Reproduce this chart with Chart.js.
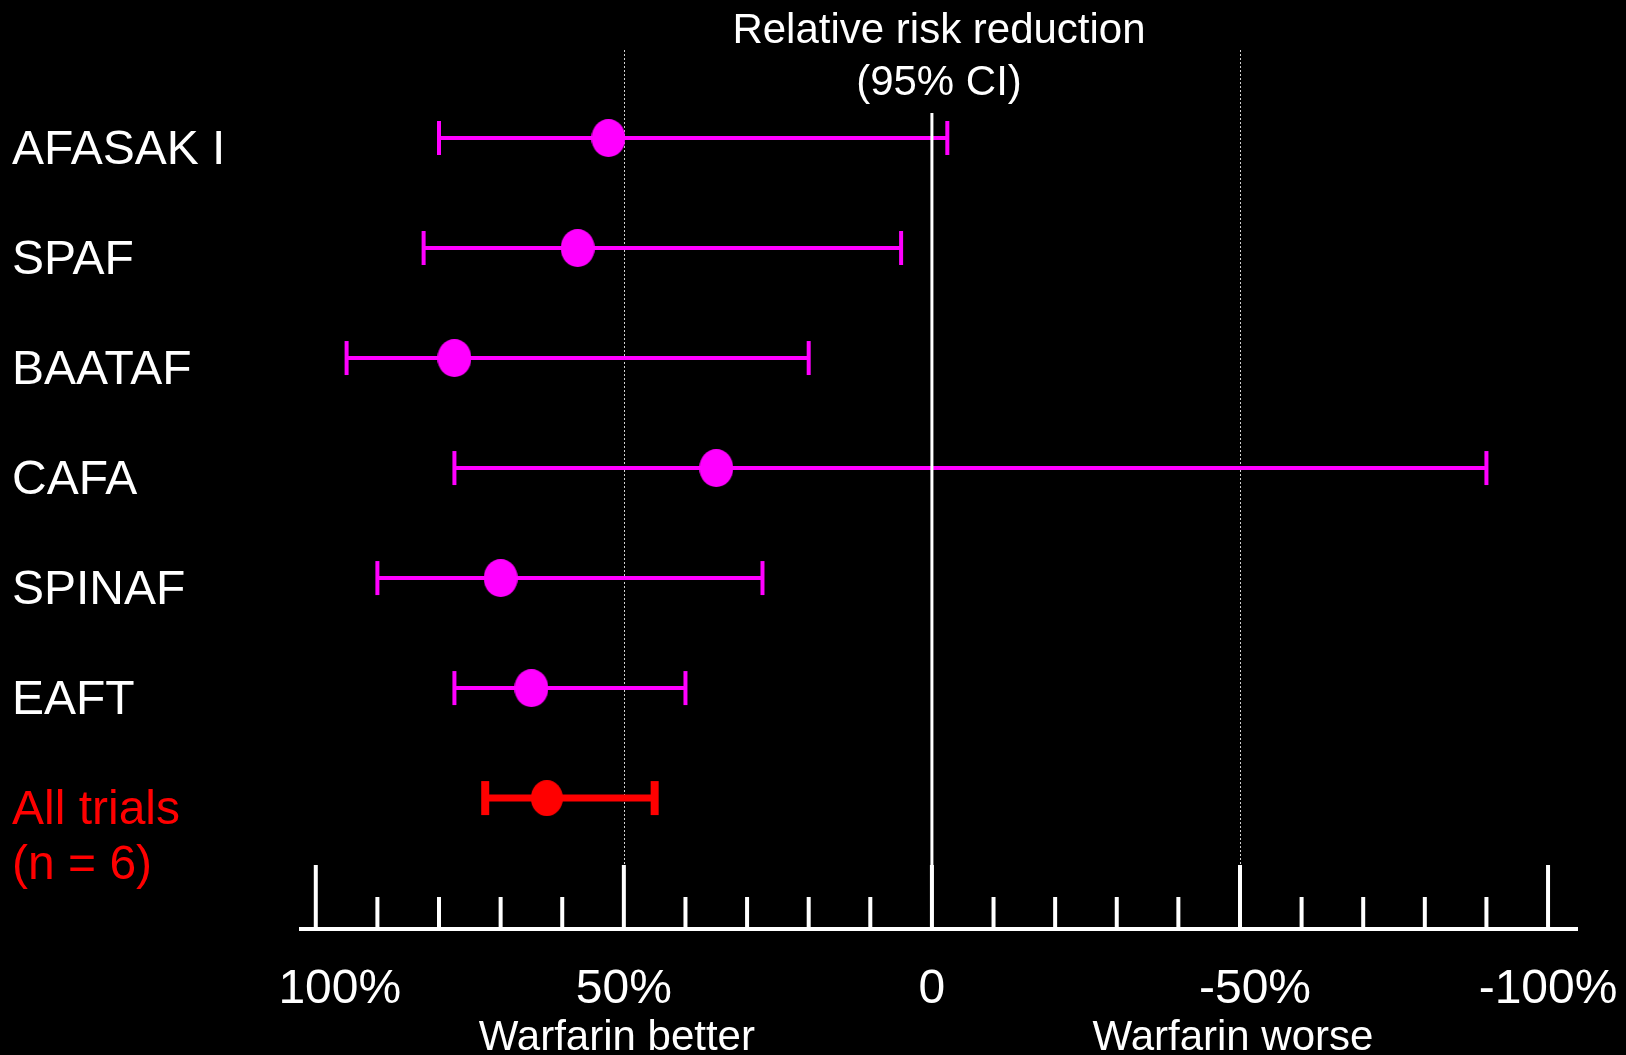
<!DOCTYPE html>
<html>
<head>
<meta charset="utf-8">
<title>Warfarin vs placebo – relative risk reduction</title>
<script src="https://cdn.jsdelivr.net/npm/chart.js@4.4.1/dist/chart.umd.min.js"></script>
<style>
  html, body { margin: 0; padding: 0; background: #000; }
  canvas { display: block; }
</style>
</head>
<body>
<canvas id="forest" width="1626" height="1055"></canvas>
<script>
// Trials and their relative risk reduction (%) with 95% confidence limits
const trials = ['AFASAK I', 'SPAF', 'BAATAF', 'CAFA', 'SPINAF', 'EAFT', ['All trials', '(n = 6)']];
const rrr = [52.5, 57.5, 77.5, 35, 70, 65, 62.5];
const ciHigh = [80, 82.5, 95, 77.5, 90, 77.5, 72.5];
const ciLow = [-2.5, 5, 20, -90, 27.5, 40, 45];

// Axis tick labels (every 10% gets a tick mark, labelled ones below)
const labelledTicks = [100, 50, 0, -50, -100];
const labelledText = ['100%', '50%', '0', '-50%', '-100%'];
const sideNotes = ['Warfarin better', 'Warfarin worse'];
const sideNoteAt = [50, -50];
const titleLines = ['Relative risk reduction', '(95% CI)'];

// small horizontal nudges (px) for the value labels under the axis
const labelNudge = [24, 0, 0, 15, 0];

const MAGENTA = '#ff00ff';
const RED = '#ff0000';
const FONT = '"Liberation Sans", Arial, Helvetica, sans-serif';
const pooledIndex = trials.length - 1;

Chart.defaults.font.family = FONT;
Chart.defaults.color = '#ffffff';

function ellipseMarker(w, h, color) {
  const c = document.createElement('canvas');
  c.width = w; c.height = h;
  const g = c.getContext('2d');
  g.fillStyle = color;
  g.beginPath();
  g.ellipse(w / 2, h / 2, w / 2, h / 2, 0, 0, Math.PI * 2);
  g.fill();
  return c;
}
const trialMarker = ellipseMarker(34, 38, MAGENTA);
const pooledMarker = ellipseMarker(32, 36, RED);

function seg(ctx, x1, y1, x2, y2) {
  ctx.beginPath();
  ctx.moveTo(x1, y1);
  ctx.lineTo(x2, y2);
  ctx.stroke();
}

const forestDecor = {
  id: 'forestDecor',
  beforeDatasetsDraw(chart) {
    const { ctx, chartArea: a, scales: { x, y } } = chart;
    ctx.save();

    // dotted guides at +/-50%
    ctx.strokeStyle = '#d0d0d0';
    ctx.lineWidth = 1;
    ctx.setLineDash([2, 2]);
    for (const v of [50, -50]) {
      const px = Math.round(x.getPixelForValue(v)) + 0.5;
      seg(ctx, px, a.top, px, a.bottom);
    }
    ctx.setLineDash([]);

    // confidence interval whiskers
    trials.forEach((_, i) => {
      const py = y.getPixelForValue(i);
      const xa = x.getPixelForValue(ciHigh[i]);
      const xb = x.getPixelForValue(ciLow[i]);
      const pooled = i === pooledIndex;
      ctx.strokeStyle = pooled ? RED : MAGENTA;
      ctx.lineWidth = pooled ? 7 : 4;
      seg(ctx, xa, py, xb, py);
      ctx.lineWidth = pooled ? 8 : 4;
      seg(ctx, xa, py - 17, xa, py + 17);
      seg(ctx, xb, py - 17, xb, py + 17);
    });

    // line of no effect
    const x0 = x.getPixelForValue(0);
    ctx.strokeStyle = '#ffffff';
    ctx.lineWidth = 3;
    seg(ctx, x0, a.top + 63, x0, a.bottom);

    // tick marks rising from the axis
    ctx.lineWidth = 4;
    x.ticks.forEach(t => {
      const px = x.getPixelForValue(t.value);
      const len = t.value % 50 === 0 ? 64 : 32;
      seg(ctx, px, a.bottom, px, a.bottom - len);
    });
    ctx.restore();
  },
  afterDraw(chart) {
    const { ctx, chartArea: a, scales: { x, y } } = chart;
    ctx.save();

    // trial names
    ctx.textAlign = 'left';
    ctx.textBaseline = 'alphabetic';
    ctx.font = '48px ' + FONT;
    trials.forEach((name, i) => {
      const lines = Array.isArray(name) ? name : [name];
      ctx.fillStyle = i === pooledIndex ? RED : '#ffffff';
      const base = y.getPixelForValue(i) + 26;
      lines.forEach((ln, k) => ctx.fillText(ln, 12, base + k * 55));
    });

    // axis value labels
    ctx.fillStyle = '#ffffff';
    ctx.textAlign = 'center';
    x.ticks.forEach(t => {
      const k = labelledTicks.indexOf(t.value);
      if (k >= 0) {
        ctx.fillText(labelledText[k], x.getPixelForValue(t.value) + labelNudge[k], a.bottom + 74);
      }
    });

    // heading
    ctx.font = '42px ' + FONT;
    const cx = (a.left + a.right) / 2;
    ctx.fillText(titleLines[0], cx, 43);
    ctx.fillText(titleLines[1], cx, 95);

    // direction notes under the axis
    sideNotes.forEach((txt, i) => {
      ctx.fillText(txt, x.getPixelForValue(sideNoteAt[i]) - 7, 1050);
    });
    ctx.restore();
  }
};

new Chart(document.getElementById('forest'), {
  type: 'scatter',
  data: {
    datasets: [{
      data: trials.map((_, i) => ({ x: rrr[i], y: i })),
      pointStyle: trials.map((_, i) => i === pooledIndex ? pooledMarker : trialMarker),
      pointRadius: 17,
      pointHoverRadius: 17,
      backgroundColor: trials.map((_, i) => i === pooledIndex ? RED : MAGENTA),
      borderWidth: 0
    }]
  },
  options: {
    responsive: false,
    animation: false,
    devicePixelRatio: 1,
    events: [],
    layout: { padding: { left: 301, right: 49, top: 50, bottom: 0 } },
    plugins: {
      legend: { display: false },
      tooltip: { enabled: false },
      title: { display: false }
    },
    scales: {
      x: {
        type: 'linear',
        reverse: true,
        min: -104.7,
        max: 102.4,
        afterFit(scale) { scale.height = 126; },
        border: { display: true, color: '#ffffff', width: 4 },
        grid: { display: false, drawTicks: false },
        ticks: {
          display: false,
          stepSize: 10,
          includeBounds: false,
          autoSkip: false,
          maxRotation: 0
        }
      },
      y: {
        type: 'linear',
        display: false,
        reverse: true,
        min: -0.8,
        max: 7.19
      }
    }
  },
  plugins: [forestDecor]
});
</script>
</body>
</html>
